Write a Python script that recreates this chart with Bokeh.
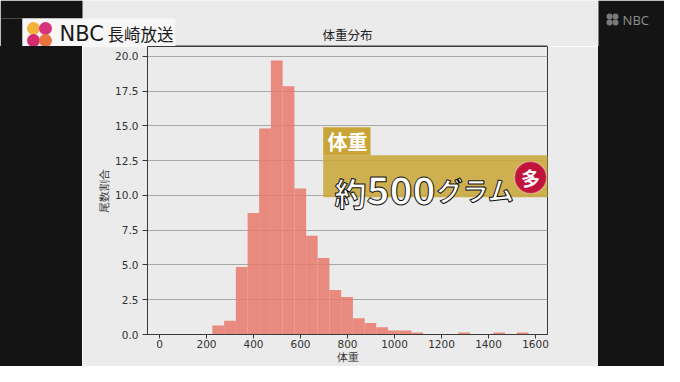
from bokeh.plotting import figure
from bokeh.layouts import column, row
from bokeh.models import (Range1d, FixedTicker, NumeralTickFormatter, Label,
                          BoxAnnotation, Div)
from bokeh.core.properties import value
from bokeh.embed import file_html
from bokeh.resources import INLINE

# ---- data ----
bin_edges = [26, 76, 126, 175, 225, 275, 325, 375, 424, 474, 524, 574, 624, 673,
             723, 773, 823, 873, 922, 972, 1022, 1072, 1122, 1171, 1221, 1271,
             1321, 1371, 1420, 1470, 1520, 1570]
share_pct = [0, 0, 0, 0, 0.65, 0.99, 4.86, 8.73, 14.8, 19.7, 17.84, 10.5, 7.1,
             5.5, 3.2, 2.7, 1.17, 0.82, 0.52, 0.28, 0.28, 0.14, 0, 0, 0, 0.14,
             0, 0, 0.14, 0, 0.14]
x_ticks = [0, 200, 400, 600, 800, 1000, 1200, 1400, 1600]
y_ticks = [0, 2.5, 5, 7.5, 10, 12.5, 15, 17.5, 20]

PANEL = "#ebebeb"
DARK = "#141414"
SPINE = "#3a3a3a"
JP = "Noto Sans CJK JP"
W, H = 664, 366
TOP_H = 46          # header band height
LEFT_W = 82         # left black strip
MAIN_W = 516        # grey panel
RIGHT_W = W - LEFT_W - MAIN_W
BODY_H = H - TOP_H
FL, FR, FB = 147, 547, 335   # plot frame edges (page pixels)

# ---------------- header band (pixel coordinates) ----------------
hdr = figure(width=W, height=TOP_H, x_range=Range1d(0, W), y_range=Range1d(TOP_H, 0),
             x_axis_type=None, y_axis_type=None, min_border=0,
             output_backend="svg", toolbar_location=None,
             background_fill_color=PANEL, border_fill_color=PANEL,
             outline_line_color=None)
hdr.quad(left=[0, 0, LEFT_W + MAIN_W], right=[LEFT_W, 22, W], top=[0, 18, 0],
         bottom=[18, TOP_H, TOP_H], fill_color=DARK, line_color=None)
# logo plate
hdr.quad(left=[22], right=[175], top=[18], bottom=[TOP_H],
         fill_color="#f7f7f7", line_color=None)
hdr.circle(x=[33, 45, 33, 45], y=[28, 28, 40, 40], radius=6.5,
           fill_color=["#f2b33d", "#d8337a", "#d42a6e", "#e8733f"],
           line_color=None)
hdr.text(x=[59], y=[33], text=["NBC"], text_font=value("DejaVu Sans"),
         text_font_size="21px", text_color="#1a1a1a", text_baseline="middle")
hdr.text(x=[107], y=[33], text=["長崎放送"], text_font=value(JP),
         text_font_size="16.5px", text_color="#1a1a1a", text_baseline="middle")
# watermark
hdr.circle(x=[609, 615, 609, 615], y=[16, 16, 22, 22], radius=3,
           fill_color="#7a7a7a", line_color=None)
hdr.text(x=[622], y=[19], text=["NBC"], text_font=value("Noto Sans"),
         text_font_size="13px", text_color="#8a8a8a", text_baseline="middle")
# chart title
hdr.text(x=[(FL + FR) / 2], y=[34], text=["体重分布"], text_font=value(JP),
         text_font_size="12.5px", text_color="#222222", text_align="center",
         text_baseline="middle")
# top spine of the axes box
hdr.segment(x0=[175], x1=[FR], y0=[45.5], y1=[45.5], line_color=SPINE, line_width=1)

left = Div(width=LEFT_W, height=BODY_H, margin=0, styles={"background-color": DARK})
right = Div(width=RIGHT_W, height=BODY_H, margin=0, styles={"background-color": DARK})

# ---------------- main chart ----------------
p = figure(width=MAIN_W, height=BODY_H,
           min_border_left=FL - LEFT_W, min_border_right=LEFT_W + MAIN_W - FR,
           min_border_top=0, min_border_bottom=H - FB,
           x_range=Range1d(-51, 1651), y_range=Range1d(0, 20.7),
           output_backend="svg", toolbar_location=None,
           background_fill_color=PANEL, border_fill_color=PANEL)

p.outline_line_color = SPINE
p.outline_line_width = 1
p.xgrid.grid_line_color = None
p.ygrid.grid_line_color = "#a9a9a9"
p.ygrid.grid_line_width = 1

p.xaxis.ticker = FixedTicker(ticks=x_ticks)
p.yaxis.ticker = FixedTicker(ticks=y_ticks)
p.yaxis.formatter = NumeralTickFormatter(format="0.0")
p.xaxis.axis_label = "体重"
p.yaxis.axis_label = "尾数割合"
for ax in (p.xaxis[0], p.yaxis[0]):
    ax.axis_line_color = SPINE
    ax.major_tick_line_color = SPINE
    ax.major_tick_in = 0
    ax.major_tick_out = 5
    ax.minor_tick_line_color = None
    ax.major_label_text_font = "DejaVu Sans"
    ax.major_label_text_font_size = "10.5px"
    ax.major_label_text_color = "#333333"
    ax.axis_label_text_font = "DejaVu Sans"
    ax.axis_label_text_font_size = "11px"
    ax.axis_label_text_font_style = "normal"
    ax.axis_label_text_color = "#333333"
p.xaxis.major_tick_out = 4
p.yaxis.major_label_standoff = 4
p.xaxis.major_label_standoff = 1
p.yaxis.axis_label_standoff = 1
p.xaxis.axis_label_standoff = 0

p.quad(left=bin_edges[:-1], right=bin_edges[1:], bottom=0, top=share_pct,
       fill_color="#e7796b", fill_alpha=0.85, line_color=None)


def sx(x):
    return x - FL


def sy(y):
    return FB - y


def box(x0, x1, y0, y1, color, alpha=1.0, radius=0, line=None, lw=1):
    b = BoxAnnotation(left=sx(x0), right=sx(x1), top=sy(y0), bottom=sy(y1),
                      left_units="screen", right_units="screen",
                      top_units="screen", bottom_units="screen",
                      fill_color=color, fill_alpha=alpha,
                      line_color=line, line_width=lw, border_radius=radius)
    p.add_layout(b)


def label(x, y, text, size, color, style="bold", align="left",
          baseline="middle", outline=None):
    kw = {}
    if outline is not None:
        kw["text_outline_color"] = outline
    p.add_layout(Label(x=sx(x), y=sy(y), x_units="screen", y_units="screen",
                       text=text, text_font=JP, text_font_size=f"{size}px",
                       text_font_style=style, text_color=color,
                       text_align=align, text_baseline=baseline, **kw))


# caption overlay
box(322.7, 370, 127.7, 155.7, "#c7a12f", alpha=0.95)
box(322.7, 557, 155.7, 197.7, "#caa73a", alpha=0.88)
label(327, 142, "体重", 20, "white")
label(334, 192, "約", 32, "white", baseline="alphabetic", outline="#111111")
label(366, 191, "500", 39, "white", baseline="alphabetic", outline="#111111")
label(436, 190, "グラム", 26, "white", baseline="alphabetic", outline="#111111")
box(514, 546, 162, 194, "#c1143c", radius=16, line="white", lw=1.5)
label(530, 177.5, "多", 19, "white", align="center")

layout = column(hdr, row(left, p, right))
open("out.html", "w").write(file_html(layout, INLINE))
